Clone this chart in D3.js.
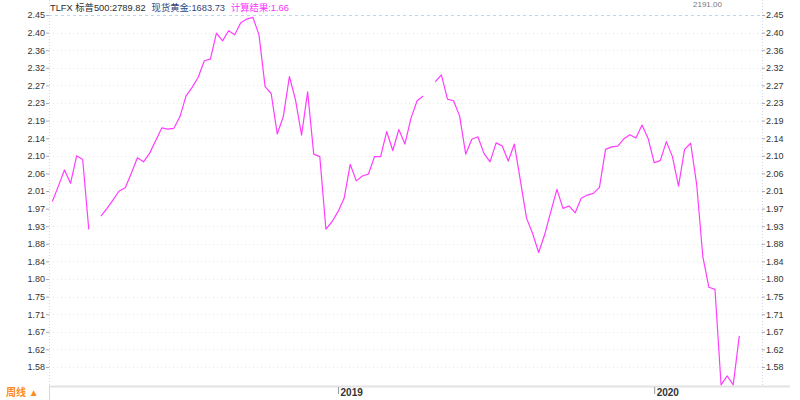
<!DOCTYPE html>
<html>
<head>
<meta charset="utf-8">
<script src="https://cdn.jsdelivr.net/npm/d3@7"></script>
<style>
  html, body { margin: 0; padding: 0; background: #fff; }
  svg { display: block; }
  text { font-family: "Liberation Sans", Arial, "Noto Sans CJK SC", sans-serif; }
</style>
</head>
<body>
<svg id="chart" width="800" height="400"></svg>
<script>
// ---------------- data ----------------
const firstWeek = "2018-02-09";            // first weekly bar (Friday)
const ratioValues = [
  1.989, 2.027, 2.067, 2.034, 2.102, 2.093, 1.920, null, 1.953, 1.972,
  1.993, 2.015, 2.023, 2.059, 2.097, 2.087, 2.108, 2.139, 2.171, 2.168,
  2.170, 2.199, 2.250, 2.271, 2.296, 2.337, 2.341, 2.405, 2.386, 2.411,
  2.401, 2.431, 2.440, 2.444, 2.401, 2.273, 2.256, 2.156, 2.199, 2.298,
  2.240, 2.153, 2.260, 2.106, 2.100, 1.921, 1.939, 1.964, 1.997, 2.081,
  2.040, 2.052, 2.057, 2.100, 2.100, 2.162, 2.115, 2.167, 2.131, 2.195,
  2.238, 2.250, null, 2.285, 2.302, 2.242, 2.238, 2.200, 2.106, 2.143,
  2.149, 2.108, 2.087, 2.134, 2.126, 2.089, 2.131, 2.040, 1.948, 1.910,
  1.863, 1.908, 1.964, 2.019, 1.972, 1.978, 1.961, 1.997, 2.005, 2.009,
  2.024, 2.118, 2.124, 2.126, 2.144, 2.154, 2.146, 2.178, 2.145, 2.085,
  2.090, 2.137, 2.100, 2.027, 2.118, 2.133, 2.030, 1.853, 1.777, 1.772,
  1.536, 1.558, 1.536, 1.657
];
const yMin = 1.58, yMax = 2.45;
const yTickLabels = ["1.58","1.62","1.67","1.71","1.75","1.80","1.84","1.88","1.93","1.97",
                     "2.01","2.06","2.10","2.14","2.19","2.23","2.27","2.32","2.36","2.40","2.45"];
const xTickDates = ["2019-01-04", "2020-01-03"];
const xTickLabels = ["2019", "2020"];
const titleParts = [
  {text: "TLFX 标普500:2789.82", color: "#2b2b2b"},
  {text: "现货黄金:1683.73", color: "#34457a"},
  {text: "计算结果:1.66", color: "#ff2bff"}
];
const periodLabel = "周线 ▲";
const topRightLabel = "2191.00";

// ---------------- layout ----------------
const W = 800, H = 400;
const plot = {left: 49, right: 762, top: 0, bottom: 386};
const svg = d3.select("#chart");

const parse = d3.timeParse("%Y-%m-%d");
const start = parse(firstWeek);
const data = ratioValues.map((v, i) => ({date: d3.timeDay.offset(start, 7 * i), v}));

const x = d3.scaleTime()
  .domain([data[0].date, data[data.length - 1].date])
  .range([52.3, 739.3]);
const y = d3.scaleLinear().domain([yMin, yMax]).range([367, 15]);
const yTickVals = yTickLabels.map((_, i) => yMin + i * (yMax - yMin) / (yTickLabels.length - 1));

// horizontal grid
svg.append("g").selectAll("line").data(yTickVals).join("line")
  .attr("x1", plot.left).attr("x2", plot.right)
  .attr("y1", d => Math.round(y(d)) + 0.5).attr("y2", d => Math.round(y(d)) + 0.5)
  .attr("stroke", (d, i) => i === yTickVals.length - 1 ? "#bcd6ea" : "#e4e6ee")
  .attr("stroke-dasharray", (d, i) => i === yTickVals.length - 1 ? "3,3" : "1,3")
  .attr("stroke-width", 1);

// vertical boundaries
[plot.left, plot.right].forEach(px => {
  svg.append("line")
    .attr("x1", px + 0.5).attr("x2", px + 0.5)
    .attr("y1", 0).attr("y2", plot.bottom)
    .attr("stroke", "#cfd8e6").attr("stroke-dasharray", "1,2");
});

// left axis
const leftAxis = d3.axisLeft(y).tickValues(yTickVals)
  .tickFormat((d, i) => yTickLabels[i]).tickSize(3).tickPadding(1);
const gL = svg.append("g").attr("transform", `translate(${plot.left},0)`).call(leftAxis);
gL.select(".domain").remove();
gL.selectAll("line").attr("stroke", "#aab");
gL.selectAll("text").attr("font-size", 9).attr("fill", "#333");

// right axis
const rightAxis = d3.axisRight(y).tickValues(yTickVals)
  .tickFormat((d, i) => yTickLabels[i]).tickSize(3).tickPadding(1);
const gR = svg.append("g").attr("transform", `translate(${plot.right},0)`).call(rightAxis);
gR.select(".domain").remove();
gR.selectAll("line").attr("stroke", "#aab");
gR.selectAll("text").attr("font-size", 9).attr("fill", "#333");

// bottom band
svg.append("line").attr("x1", plot.left).attr("x2", 790)
  .attr("y1", plot.bottom + 0.5).attr("y2", plot.bottom + 0.5)
  .attr("stroke", "#e2e2e2").attr("stroke-width", 2);
svg.append("line").attr("x1", plot.left + 0.5).attr("x2", plot.left + 0.5)
  .attr("y1", plot.bottom).attr("y2", H)
  .attr("stroke", "#cfd8e6");

const xTickPos = xTickDates.map(parse);
const bottomAxis = d3.axisBottom(x).tickValues(xTickPos)
  .tickFormat((d, i) => xTickLabels[i]).tickSize(7).tickPadding(0);
const gB = svg.append("g").attr("transform", `translate(0,${plot.bottom + 1})`).call(bottomAxis);
gB.select(".domain").remove();
gB.selectAll("line").attr("stroke", "#999");
gB.selectAll("text")
  .attr("text-anchor", "start").attr("dx", 2).attr("y", 2)
  .attr("font-size", 10).attr("font-weight", "bold").attr("fill", "#333");

svg.append("text").attr("x", 6).attr("y", 396)
  .attr("font-size", 10).attr("font-weight", "bold").attr("fill", "#ff8a1c")
  .text(periodLabel);

// clip + line
svg.append("clipPath").attr("id", "clip").append("rect")
  .attr("x", plot.left).attr("y", plot.top)
  .attr("width", plot.right - plot.left).attr("height", plot.bottom - plot.top);

const line = d3.line()
  .defined(d => d.v !== null)
  .x(d => x(d.date))
  .y(d => y(d.v));

svg.append("path").datum(data)
  .attr("clip-path", "url(#clip)")
  .attr("fill", "none")
  .attr("stroke", "#ff3dff")
  .attr("stroke-width", 1.2)
  .attr("stroke-linejoin", "round")
  .attr("d", line);

// title
const title = svg.append("text").attr("x", 50).attr("y", 11).attr("font-size", 9.3);
titleParts.forEach((p, i) => {
  title.append("tspan").attr("fill", p.color)
    .attr("dx", i === 0 ? 0 : 6)
    .text(p.text);
});

svg.append("text").attr("x", 693).attr("y", 7)
  .attr("font-size", 8).attr("fill", "#777")
  .text(topRightLabel);
</script>
</body>
</html>
